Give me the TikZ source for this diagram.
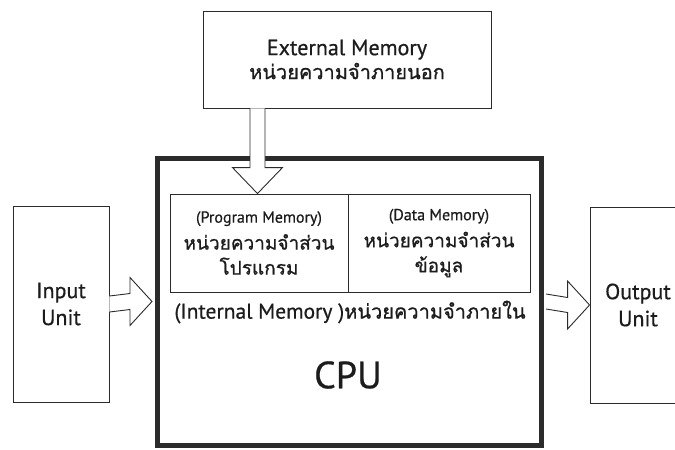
\documentclass[tikz,border=0pt]{standalone}
\usepackage{fontspec}
\setmainfont[FakeBold=0.6]{PT Sans}
\newfontfamily\thaifont[Script=Thai,FakeBold=0.8]{Loma}
\usetikzlibrary{calc}
\definecolor{ink}{HTML}{2B2B2B}
\definecolor{txt}{HTML}{1C1C1C}
\begin{document}
\begin{tikzpicture}[x=1pt,y=-1pt,
  box/.style={draw=ink, line width=0.9pt, fill=white, inner sep=0pt, align=center, text=txt},
  cpubox/.style={draw=ink, line width=5pt, fill=white, inner sep=0pt},
  barrow/.style={draw=ink, line width=0.9pt, fill=white, line join=miter},
  lbl/.style={text=txt, inner sep=0pt, align=center},
]
\useasboundingbox (0,0) rectangle (675,450);
\clip (0,0) rectangle (675,450);
\fill[white] (0,0) rectangle (675,450);

% boxes
\node[box, minimum width=288pt, minimum height=97pt, font=\fontsize{22}{26}\selectfont] (ext) at (347,59.5)
  {External Memory\\[-2pt]{\thaifont\fontsize{20}{24}\selectfont หน่วยความจำภายนอก}};
\node[cpubox, minimum width=384pt, minimum height=287pt] (cpu) at (349,301.5) {};
\node[box, minimum width=178pt, minimum height=98pt, font=\thaifont\fontsize{19}{26}\selectfont] (prog) at (259,243)
  {{\rmfamily\fontsize{16}{20}\selectfont (Program Memory)}\\[1pt]หน่วยความจำส่วน\\[-1pt]โปรแกรม};
\node[box, minimum width=182pt, minimum height=98pt, font=\thaifont\fontsize{19}{26}\selectfont] (data) at (439,243)
  {{\rmfamily\fontsize{16}{20}\selectfont (Data Memory)}\\[1pt]หน่วยความจำส่วน\\[-1pt]ข้อมูล};
\node[lbl, font=\fontsize{21.5}{24}\selectfont] (intm) at (350,312) {(Internal Memory )\thaifont\fontsize{20}{24}\selectfont หน่วยความจำภายใน};
\node[lbl, font=\fontsize{38}{42}\selectfont] (cpul) at (348,375) {CPU};
\node[box, minimum width=96pt, minimum height=196pt, font=\fontsize{22}{27}\selectfont] (inp) at (61,304) {Input\\Unit};
\node[box, minimum width=96pt, minimum height=196pt, font=\fontsize{22}{27}\selectfont] (out) at (638,305) {Output\\Unit};

% down arrow: external memory -> program memory
\coordinate (dx) at (257.5,0);
\coordinate (a0) at (ext.south -| dx);
\coordinate (a1) at (prog.north -| dx);
\draw[barrow] ($(a0)+(-7.5,0)$) -- ($(a1)+(-7.5,-26)$) -- ($(a1)+(-25,-26)$) -- (a1)
  -- ($(a1)+(25,-26)$) -- ($(a1)+(7.5,-26)$) -- ($(a0)+(7.5,0)$);

% input arrow: input unit -> cpu
\coordinate (b0) at (inp.east);
\coordinate (b1) at ($(cpu.west)+(-2.5,0)$);
\draw[barrow] ($(b0)+(0,-8)$) -- ($(b1)+(-22,-8)$) -- ($(b1)+(-22,-24)$) -- (b1)
  -- ($(b1)+(-22,24)$) -- ($(b1)+(-22,8)$) -- ($(b0)+(0,8)$);

% output arrow: cpu -> output unit
\coordinate (c0) at ($(cpu.east)+(2.5,0)$);
\coordinate (c1) at (out.west);
\draw[barrow] ($(c0)+(0,-7.5)$) -- ($(c1)+(-22,-7.5)$) -- ($(c1)+(-22,-24)$) -- (c1)
  -- ($(c1)+(-22,24)$) -- ($(c1)+(-22,7.5)$) -- ($(c0)+(0,7.5)$);
\end{tikzpicture}
\end{document}
